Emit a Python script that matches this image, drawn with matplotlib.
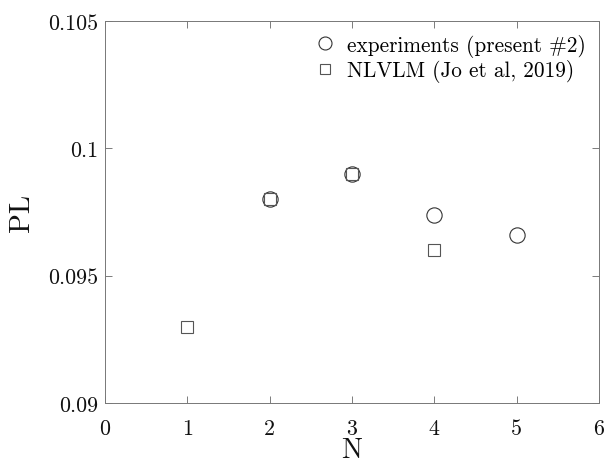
import matplotlib
matplotlib.use("Agg")
import matplotlib.pyplot as plt

plt.rcParams["font.family"] = "serif"
plt.rcParams["font.serif"] = ["cmr10"]
plt.rcParams["mathtext.fontset"] = "cm"
plt.rcParams["axes.formatter.use_mathtext"] = True

# Experimental data
exp_n = [2, 3, 4, 5]
exp_pl = [0.0980, 0.0990, 0.0974, 0.0966]

# NLVLM model data
model_n = [1, 2, 3, 4]
model_pl = [0.0930, 0.0980, 0.0990, 0.0960]

x_ticks = [0, 1, 2, 3, 4, 5, 6]
y_ticks = [0.09, 0.095, 0.1, 0.105]
y_tick_labels = ["0.09", "0.095", "0.1", "0.105"]

fig = plt.figure(figsize=(6.05, 4.64), dpi=100)
ax = fig.add_axes([0.1736, 0.1293, 0.8164, 0.8233])

ax.plot(exp_n, exp_pl, linestyle="none", marker="o", markersize=11,
        markerfacecolor="none", markeredgecolor="#333333", markeredgewidth=0.8,
        label="experiments (present #2)")
ax.plot(model_n, model_pl, linestyle="none", marker="s", markersize=9,
        markerfacecolor="none", markeredgecolor="#555555", markeredgewidth=0.8,
        label="NLVLM (Jo et al, 2019)")

ax.set_xlim(0, 6)
ax.set_ylim(0.09, 0.105)
ax.set_xticks(x_ticks)
ax.set_xticklabels([str(v) for v in x_ticks])
ax.set_yticks(y_ticks)
ax.set_yticklabels(y_tick_labels)

ax.tick_params(direction="in", top=True, right=True, length=5, width=0.6,
               color="#666666", labelsize=15.8, labelcolor="#111111")
ax.tick_params(axis="x", pad=11)
ax.tick_params(axis="y", pad=5)
for s in ax.spines.values():
    s.set_color("#777777")
    s.set_linewidth(0.7)

ax.set_xlabel("N", fontsize=20, color="#111111", labelpad=-0.5)
ax.set_ylabel("PL", fontsize=21, color="#111111", labelpad=9)

ax.legend(loc="upper right", frameon=False, fontsize=15.3, handletextpad=0.45,
          borderaxespad=0.2, borderpad=0.4, labelspacing=0.12, handlelength=1.2,
          markerscale=0.85)

fig.savefig("out.png", dpi=100)
